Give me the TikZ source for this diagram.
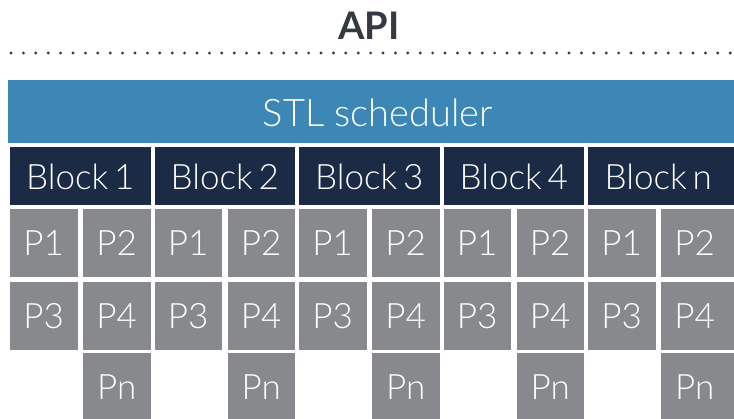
\documentclass[tikz,border=0pt]{standalone}
\usepackage{fontspec}
\setmainfont{Lato}
\newfontfamily\lightfont{Lato Light}
\definecolor{apigray}{HTML}{353A42}
\definecolor{schedblue}{HTML}{3D87B6}
\definecolor{blocknavy}{HTML}{1B2A45}
\definecolor{procgray}{HTML}{87898D}
\tikzset{
  cell/.style={anchor=north west, inner sep=0pt, outer sep=0pt, text=white,
    font=\lightfont\fontsize{35}{35}\selectfont},
  schedbar/.style={cell, fill=schedblue, minimum height=63pt},
  blockbox/.style={cell, fill=blocknavy, minimum width=140.5pt, minimum height=58pt},
  procbox/.style={cell, fill=procgray, minimum width=67.5pt, minimum height=68pt},
}
\begin{document}
\begin{tikzpicture}[x=1pt, y=-1pt]
  \useasboundingbox (0,0) rectangle (734,418);
  \clip (0,0) rectangle (734,418);
  % title and dotted separator
  \node[font=\bfseries\fontsize{38}{38}\selectfont, text=apigray, inner sep=0pt]
    (api) at (369,26) {API};
  \coordinate (dotsL) at (11,53);
  \coordinate (dotsR) at (740,53);
  \draw[apigray, line width=3.2pt, line cap=round, dash pattern=on 0pt off 12.4pt]
    (dotsL) -- (dotsR);
  % scheduler bar
  \node[schedbar, minimum width=740pt] (sched) at (8,80) {};
  \node[text=white, font=\lightfont\fontsize{38}{38}\selectfont, inner sep=0pt]
    (schedlabel) at (378,113) {STL scheduler};
  % blocks with their processors
  \foreach \i/\lab/\w in {0/1/140.5,1/2/140.5,2/3/140.5,3/4/140.5,4/n/160} {
    \pgfmathsetmacro{\bx}{10+144.5*\i}
    \pgfmathsetmacro{\px}{\bx+73}
    \pgfmathsetmacro{\pw}{\w-73}
    \node[blockbox, minimum width=\w pt] (block\i) at (\bx,147) {};
    \node[text=white, font=\lightfont\fontsize{35}{35}\selectfont, inner sep=0pt]
      (blocklabel\i) at (\bx+70.25,177) {Block\,\lab};
    \node[procbox] (p1b\i) at (\bx,209) {P1};
    \node[procbox, minimum width=\pw pt] (p2b\i) at (\px,209) {};
    \node[text=white, font=\lightfont\fontsize{35}{35}\selectfont, inner sep=0pt]
      (p2label\i) at (\px+33.75,243) {P2};
    \node[procbox] (p3b\i) at (\bx,282) {P3};
    \node[procbox, minimum width=\pw pt] (p4b\i) at (\px,282) {};
    \node[text=white, font=\lightfont\fontsize{35}{35}\selectfont, inner sep=0pt]
      (p4label\i) at (\px+33.75,316) {P4};
    \node[procbox, minimum width=\pw pt] (pnb\i) at (\px,353) {};
    \node[text=white, font=\lightfont\fontsize{35}{35}\selectfont, inner sep=0pt]
      (pnlabel\i) at (\px+33.75,387) {Pn};
  }
\end{tikzpicture}
\end{document}
